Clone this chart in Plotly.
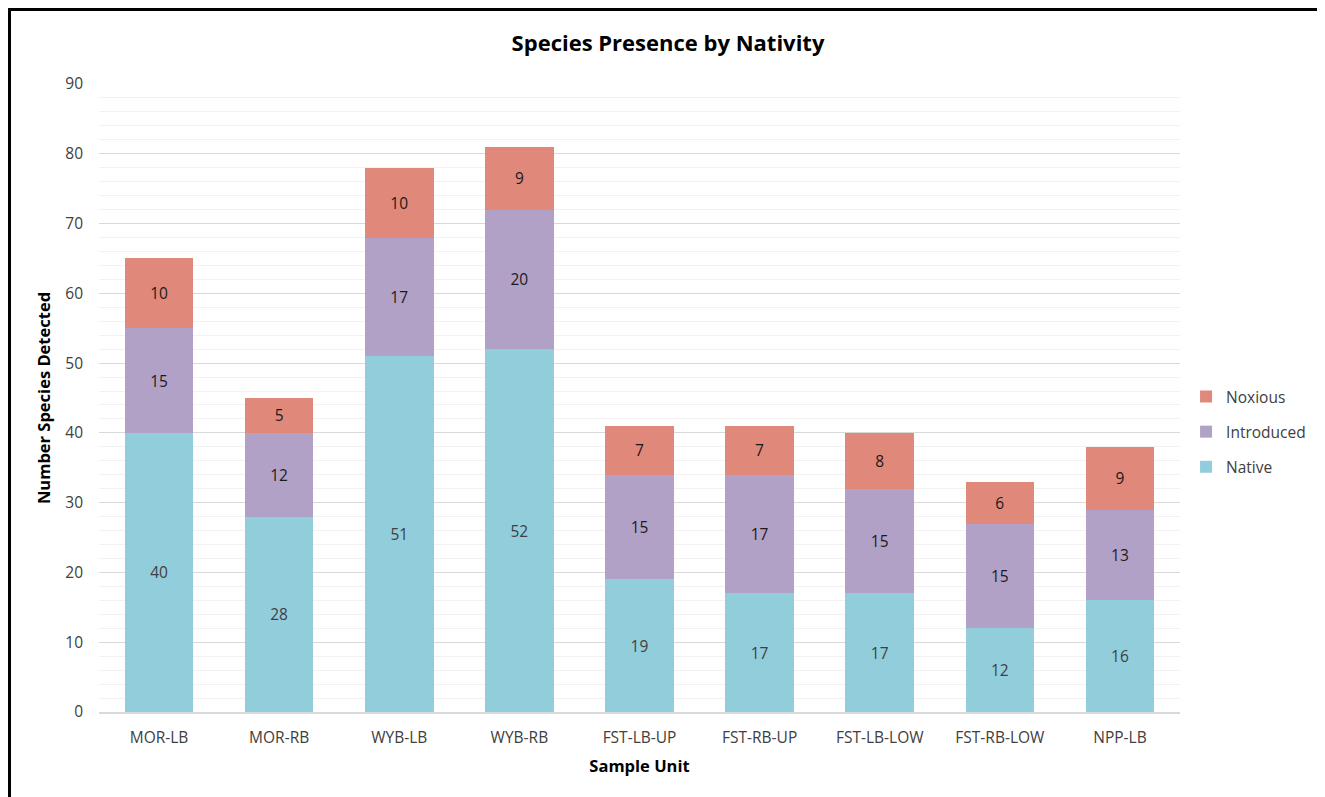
import plotly.graph_objects as go

categories = ["MOR-LB", "MOR-RB", "WYB-LB", "WYB-RB", "FST-LB-UP", "FST-RB-UP", "FST-LB-LOW", "FST-RB-LOW", "NPP-LB"]
native = [40, 28, 51, 52, 19, 17, 17, 12, 16]
introduced = [15, 12, 17, 20, 15, 17, 15, 15, 13]
noxious = [10, 5, 10, 9, 7, 7, 8, 6, 9]

FONT = "Open Sans"
W, H = 1317, 789
L, T, PW, PH = 91, 76, 1081, 628

fig = go.Figure()
series = [
    ("Native", native, "#92CDDC", "#404040", 3),
    ("Introduced", introduced, "#B2A1C7", "#1a1a1a", 2),
    ("Noxious", noxious, "#E0887A", "#1a1a1a", 1),
]
for name, vals, color, tcol, rank in series:
    fig.add_trace(go.Bar(
        name=name, x=categories, y=vals, legendgroup=name, legendrank=rank,
        marker=dict(color=color, line=dict(width=0)),
        text=vals, textposition="inside", insidetextanchor="middle",
        textangle=0,
        textfont=dict(family=FONT, size=15.5, color=tcol),
    ))

fig.update_layout(
    barmode="stack",
    bargap=0.43,
    width=W, height=H,
    margin=dict(l=L, r=W - L - PW, t=T, b=H - T - PH, autoexpand=False),
    paper_bgcolor="white", plot_bgcolor="white",
    font=dict(family=FONT, size=15.5, color="#404040"),
    title=dict(text="<b>Species Presence by Nativity</b>", x=660 / W, xref="container",
               xanchor="center", y=1 - 35 / H, yanchor="middle",
               font=dict(family=FONT, size=22, color="black")),
    legend=dict(x=1.0056, y=0.446, xanchor="left", yanchor="middle",
                traceorder="grouped", font=dict(family=FONT, size=15.5, color="#404040"),
                itemwidth=30, tracegroupgap=12),
    uniformtext=dict(mode=False),
)
fig.update_yaxes(
    range=[0, 90], dtick=10, showgrid=True, gridcolor="#D9D9D9", gridwidth=1,
    minor=dict(dtick=2, showgrid=True, gridcolor="#F2F2F2", gridwidth=1),
    zeroline=False, showline=False, ticks="", ticklabelstandoff=15,
    tickfont=dict(family=FONT, size=15.5, color="#404040"),
    title=dict(text="<b>Number Species Detected</b>", standoff=10,
               font=dict(family=FONT, size=16.5, color="black")),
)
fig.update_xaxes(
    showline=True, linecolor="#D9D9D9", linewidth=2, ticks="", ticklabelstandoff=10,
    tickfont=dict(family=FONT, size=15.5, color="#404040"),
    title=dict(text="<b>Sample Unit</b>", standoff=14,
               font=dict(family=FONT, size=16.5, color="black")),
)
fig.add_shape(type="rect", xref="paper", yref="paper",
              x0=(1.5 - L) / PW, x1=1.3, y0=-0.3, y1=(T + PH - 1.5) / PH,
              line=dict(color="black", width=3), fillcolor="rgba(0,0,0,0)", layer="above")

fig.write_html("out.html")
